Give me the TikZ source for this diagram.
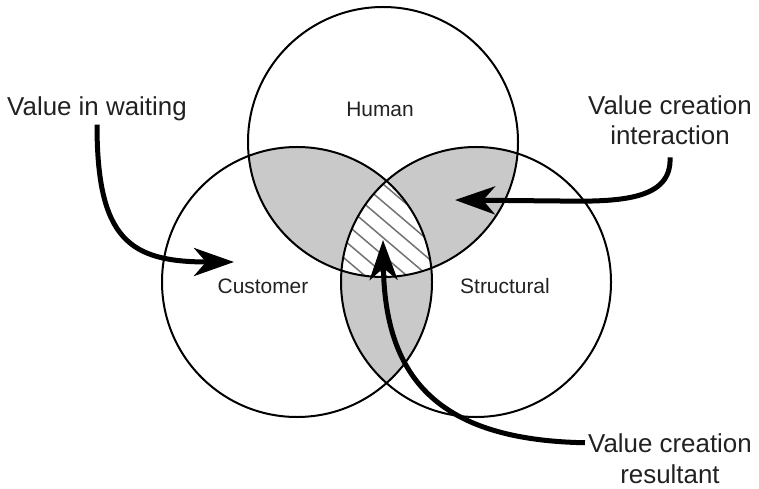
\documentclass[tikz,border=0pt]{standalone}
\usepackage{fontspec}
\setmainfont{Liberation Sans}
\usetikzlibrary{arrows.meta}
\definecolor{lensgray}{gray}{0.79}
\definecolor{hatchgray}{gray}{0.45}
\definecolor{inkgray}{gray}{0.13}
\begin{document}
\begin{tikzpicture}[x=1bp,y=-1bp]
\useasboundingbox (0,0) rectangle (759,489);
\coordinate (H) at (383,142);
\coordinate (C) at (297,282);
\coordinate (S) at (476,282);

\tikzset{lbl/.style={font=\fontsize{26}{30}\selectfont,text=inkgray,inner sep=3bp},
  setlbl/.style={font=\fontsize{21}{25}\selectfont,text=inkgray},
  ring/.style={line width=2bp},
  bigarrow/.style={-{Stealth[length=40bp,width=28bp,inset=12bp]},line width=5bp}};

\begin{scope}
\clip (H) circle (135bp);
\fill[lensgray] (C) circle (135bp);
\fill[lensgray] (S) circle (135bp);
\end{scope}
\begin{scope}
\clip (C) circle (135bp);
\fill[lensgray] (S) circle (135bp);
\end{scope}
\begin{scope}
\clip (H) circle (135bp);
\clip (C) circle (135bp);
\clip (S) circle (135bp);
\fill[white] (H) circle (135bp);
\foreach \k in {-4,...,8}
  \draw[hatchgray,line width=1.5bp] (301+\k*21,150) -- ++(200,170);
\end{scope}

\draw[ring] (H) circle (135bp);
\draw[ring] (C) circle (135bp);
\draw[ring] (S) circle (135bp);

\node[setlbl,anchor=base] (human) at (380,117) {Human};
\node[setlbl,anchor=base] (customer) at (263,294) {Customer};
\node[setlbl,anchor=base] (structural) at (505,294) {Structural};
\node[lbl,anchor=base] (waiting) at (97,116) {Value in waiting};
\node[lbl,anchor=base] (intcre) at (670,115) {Value creation};
\node[lbl,anchor=base] (interaction) at (670,145) {interaction};
\node[lbl,anchor=base] (rescre) at (670,452) {Value creation};
\node[lbl,anchor=base] (resultant) at (670,483) {resultant};

\coordinate (waittip) at (234,262);
\coordinate (inttip) at (455,200);
\coordinate (restip) at (383,240);

\draw[bigarrow] (waiting.south) .. controls (97,240) and (130,262) .. (waittip);
\draw[bigarrow] ([yshift=-9bp]interaction.south) .. controls (672,200) and (620,202) .. (560,201) -- (inttip);
\draw[bigarrow] (rescre.west) .. controls (440,440) and (385,380) .. (restip);
\end{tikzpicture}
\end{document}
